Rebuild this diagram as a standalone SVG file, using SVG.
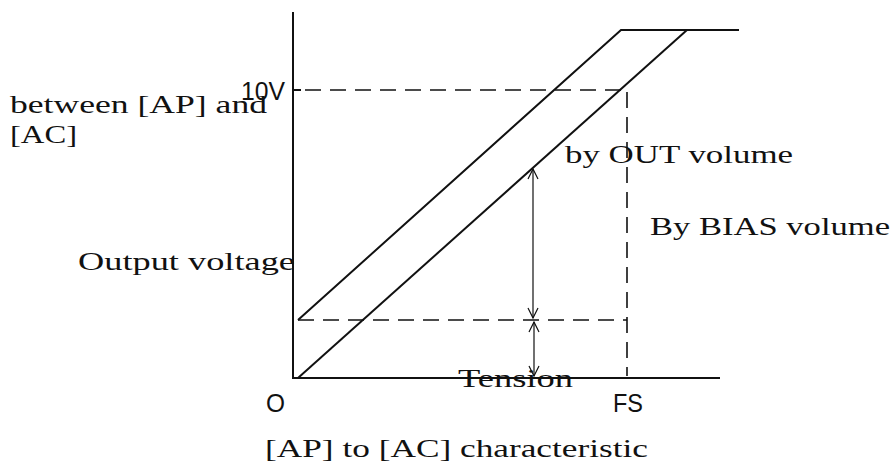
<svg xmlns="http://www.w3.org/2000/svg" width="895" height="465" viewBox="0 0 895 465">
<style>
.t{font-family:"Liberation Serif","DejaVu Serif",serif;font-size:26px;fill:#111}
.s{font-family:"Liberation Sans",Arial,sans-serif;font-size:25px;fill:#111}
.ax{stroke:#111;stroke-width:2;fill:none}
.d{stroke:#111;stroke-width:1.6;fill:none;stroke-dasharray:16 9}
.ar{stroke:#111;stroke-width:1.2;fill:none}
</style>
<defs>
<marker id="v" viewBox="0 0 12 12" refX="11" refY="6" markerWidth="12" markerHeight="12" markerUnits="userSpaceOnUse" orient="auto-start-reverse">
<path d="M1,1 L11,6 L1,11" fill="none" stroke="#111" stroke-width="1.2"/>
</marker>
</defs>
<rect width="895" height="465" fill="#fff"/>
<g id="axes">
<line class="ax" x1="293" y1="12" x2="293" y2="379"/>
<line class="ax" x1="293" y1="378" x2="720" y2="378"/>
<line class="ax" x1="293" y1="90" x2="301" y2="90"/>
</g>
<g id="curves">
<polyline class="ax" points="298,320 621,30 739,30"/>
<line class="ax" x1="298" y1="378" x2="687" y2="30"/>
</g>
<g id="guides">
<line class="d" x1="305" y1="90" x2="622" y2="90"/>
<line class="d" x1="627" y1="92" x2="627" y2="376"/>
<line class="d" x1="298" y1="320" x2="627" y2="320"/>
</g>
<g id="connectors">
<line class="ar" x1="533" y1="169" x2="533" y2="318" marker-start="url(#v)" marker-end="url(#v)"/>
<line class="ar" x1="534" y1="322" x2="534" y2="376" marker-start="url(#v)" marker-end="url(#v)"/>
</g>
<g id="labels">
<text class="t" x="10" y="113" textLength="257" lengthAdjust="spacingAndGlyphs">between [AP] and</text>
<text class="t" x="10" y="143" textLength="67" lengthAdjust="spacingAndGlyphs">[AC]</text>
<text class="s" x="241" y="100" textLength="44" lengthAdjust="spacingAndGlyphs">10V</text>
<text class="t" x="78" y="270" textLength="217" lengthAdjust="spacingAndGlyphs">Output voltage</text>
<text class="t" x="565" y="163" textLength="228" lengthAdjust="spacingAndGlyphs">by OUT volume</text>
<text class="t" x="650" y="235" textLength="240" lengthAdjust="spacingAndGlyphs">By BIAS volume</text>
<text class="t" x="458" y="387" textLength="115" lengthAdjust="spacingAndGlyphs">Tension</text>
<text class="s" x="266" y="412" textLength="19" lengthAdjust="spacingAndGlyphs">O</text>
<text class="s" x="613" y="412" textLength="30" lengthAdjust="spacingAndGlyphs">FS</text>
<text class="t" x="265" y="457" textLength="383" lengthAdjust="spacingAndGlyphs">[AP] to [AC] characteristic</text>
</g>
</svg>
